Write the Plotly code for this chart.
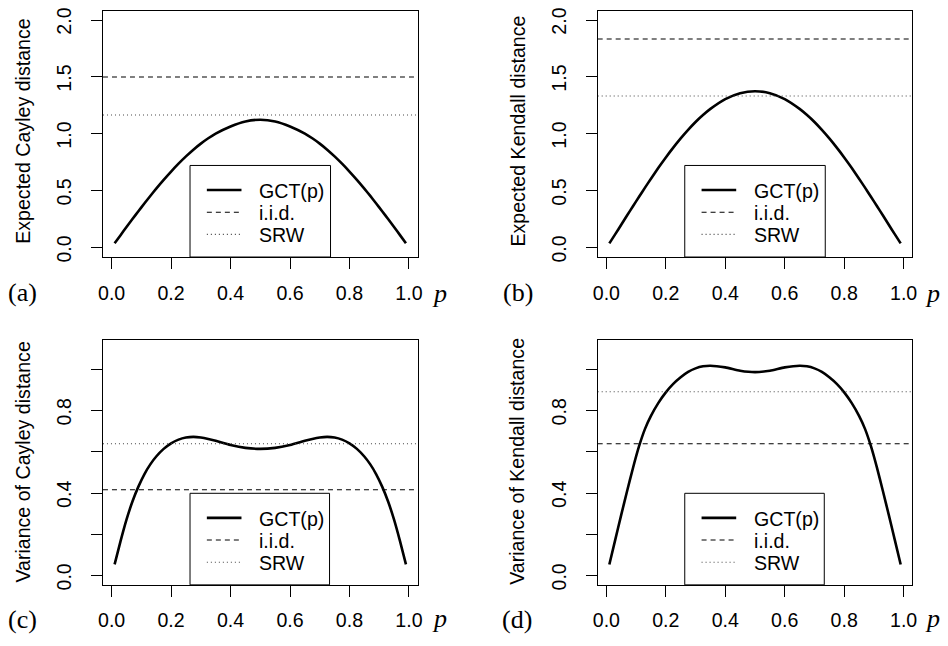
import plotly.graph_objects as go

# ---------------- data ----------------
P = [0.01, 0.03, 0.05, 0.07, 0.09, 0.11, 0.13, 0.15, 0.175, 0.2, 0.225, 0.25, 0.275,
     0.3, 0.325, 0.35, 0.4, 0.45, 0.5, 0.55, 0.6, 0.65, 0.675, 0.7, 0.725, 0.75,
     0.775, 0.8, 0.825, 0.85, 0.87, 0.89, 0.91, 0.93, 0.95, 0.97, 0.99]

EXP_CAYLEY = [0.04, 0.112, 0.183, 0.253, 0.322, 0.39, 0.456, 0.52, 0.597, 0.67, 0.739,
              0.803, 0.862, 0.915, 0.962, 1.003, 1.066, 1.11, 1.125, 1.11, 1.066, 1.003,
              0.962, 0.915, 0.862, 0.803, 0.739, 0.67, 0.597, 0.52, 0.456, 0.39, 0.322,
              0.253, 0.183, 0.112, 0.04]

EXP_KENDALL = [0.04, 0.121, 0.203, 0.286, 0.368, 0.449, 0.529, 0.607, 0.703, 0.794, 0.88,
               0.961, 1.036, 1.105, 1.166, 1.22, 1.306, 1.358, 1.375, 1.358, 1.306, 1.22,
               1.166, 1.105, 1.036, 0.961, 0.88, 0.794, 0.703, 0.607, 0.529, 0.449, 0.368,
               0.286, 0.203, 0.121, 0.04]

VAR_CAYLEY = [0.055, 0.168, 0.272, 0.36, 0.432, 0.492, 0.54, 0.578, 0.615, 0.642, 0.66,
              0.67, 0.673, 0.67, 0.663, 0.654, 0.634, 0.62, 0.615, 0.62, 0.634, 0.654,
              0.663, 0.67, 0.673, 0.67, 0.66, 0.642, 0.615, 0.578, 0.54, 0.492, 0.432,
              0.36, 0.272, 0.168, 0.055]

VAR_KENDALL = [0.055, 0.175, 0.295, 0.412, 0.525, 0.628, 0.712, 0.775, 0.838, 0.889, 0.93,
               0.962, 0.988, 1.005, 1.015, 1.018, 1.01, 0.994, 0.987, 0.994, 1.01, 1.018,
               1.015, 1.005, 0.988, 0.962, 0.93, 0.889, 0.838, 0.775, 0.712, 0.628, 0.525,
               0.412, 0.295, 0.175, 0.055]

IID_LEVEL = [1.5, 1.8333, 0.4167, 0.64]
SRW_LEVEL = [1.1667, 1.3333, 0.64, 0.892]

Y_TITLES = ["Expected Cayley distance", "Expected Kendall distance",
            "Variance of Cayley distance", "Variance of Kendall distance"]
PANEL_TAGS = ["(a)", "(b)", "(c)", "(d)"]
LEGEND_NAMES = ["GCT(p)", "i.i.d.", "SRW"]

X_TICKS = [0.0, 0.2, 0.4, 0.6, 0.8, 1.0]
X_TICK_TEXT = ["0.0", "0.2", "0.4", "0.6", "0.8", "1.0"]
Y_TICKS_TOP = [0.0, 0.5, 1.0, 1.5, 2.0]
Y_TICK_TEXT_TOP = ["0.0", "0.5", "1.0", "1.5", "2.0"]
Y_TICKS_BOT = [0.0, 0.2, 0.4, 0.6, 0.8, 1.0]
Y_TICK_TEXT_BOT = ["0.0", "", "0.4", "", "0.8", ""]
Y_LIM_TOP = [0.0, 2.0]
Y_LIM_BOT = [0.0, 1.1]

SERIES = [EXP_CAYLEY, EXP_KENDALL, VAR_CAYLEY, VAR_KENDALL]

# ---------------- layout helpers ----------------
W, H = 948, 646
SANS = "Liberation Sans, Arial, Helvetica, sans-serif"
SERIF = "Liberation Serif, Times New Roman, serif"
FS = 19.6


def fx(px):
    return px / W


def fy(py):
    return 1 - py / H


def r_range(lo, hi):
    pad = 0.04 * (hi - lo)
    return [lo - pad, hi + pad]


XLIM = r_range(min(P), max(P))
YLIMS = [r_range(*Y_LIM_TOP), r_range(*Y_LIM_TOP), r_range(*Y_LIM_BOT), r_range(*Y_LIM_BOT)]

# pixel geometry of each panel
BOXES = [(99, 417, 7, 257), (599, 917, 7, 257), (99, 417, 341, 590), (599, 917, 341, 590)]
LEGENDS = [(187, 329, 164, 257), (687, 829, 164, 257), (187, 328, 497, 590), (687, 828, 497, 590)]
YTITLE_X = [18, 518, 18, 517.5]
YTITLE_Y = [129, 129, 465, 465]
TAG_X = [18, 518, 18, 517]
P_X = [439, 937, 439, 937]
LABEL_ROW_Y = [293, 293, 625, 625]
PLABEL_ROW_Y = [294, 294, 624, 624]

fig = go.Figure()
layout = dict(
    width=W, height=H, margin=dict(l=0, r=0, t=0, b=0),
    paper_bgcolor="white", plot_bgcolor="white", showlegend=False,
    font=dict(family=SANS, size=FS, color="black"),
)
shapes = []
annotations = []

for i in range(4):
    sfx = "" if i == 0 else str(i + 1)
    xa, ya = "x" + sfx, "y" + sfx
    x0, x1, y0, y1 = BOXES[i]

    fig.add_trace(go.Scatter(x=P, y=SERIES[i], mode="lines", xaxis=xa, yaxis=ya,
                             line=dict(color="black", width=2.6, shape="spline", smoothing=0.6),
                             name=LEGEND_NAMES[0], hoverinfo="skip"))
    fig.add_trace(go.Scatter(x=XLIM, y=[IID_LEVEL[i]] * 2, mode="lines", xaxis=xa, yaxis=ya,
                             line=dict(color="black", width=1.1, dash="5px,4px"),
                             name=LEGEND_NAMES[1], hoverinfo="skip"))
    fig.add_trace(go.Scatter(x=XLIM, y=[SRW_LEVEL[i]] * 2, mode="lines", xaxis=xa, yaxis=ya,
                             line=dict(color="#444", width=1.1, dash="1px,3px"),
                             name=LEGEND_NAMES[2], hoverinfo="skip"))

    top = i < 2
    layout["xaxis" + sfx] = dict(
        domain=[fx(x0), fx(x1)], anchor=ya, range=XLIM, showgrid=False, zeroline=False,
        showline=True, linecolor="black", linewidth=1, mirror=True,
        ticks="outside", ticklen=11, tickwidth=1, tickcolor="black",
        tickmode="array", tickvals=X_TICKS, ticktext=X_TICK_TEXT,
        tickfont=dict(family=SANS, size=FS, color="black"), ticklabelstandoff=7,
    )
    layout["yaxis" + sfx] = dict(
        domain=[fy(y1), fy(y0)], anchor=xa, range=YLIMS[i], showgrid=False, zeroline=False,
        showline=True, linecolor="black", linewidth=1, mirror=True,
        ticks="outside", ticklen=11, tickwidth=1, tickcolor="black",
        tickmode="array",
        tickvals=Y_TICKS_TOP if top else Y_TICKS_BOT,
        ticktext=Y_TICK_TEXT_TOP if top else Y_TICK_TEXT_BOT,
        tickangle=-90, tickfont=dict(family=SANS, size=FS, color="black"),
        ticklabelstandoff=12, ticklabelshift=4,
    )

    # axis title
    annotations.append(dict(text=Y_TITLES[i], xref="paper", yref="paper",
                            x=fx(YTITLE_X[i]), y=fy(YTITLE_Y[i]), textangle=-90,
                            showarrow=False, xanchor="center", yanchor="middle",
                            font=dict(family=SANS, size=FS, color="black")))
    # panel tag and p label
    annotations.append(dict(text=PANEL_TAGS[i], xref="paper", yref="paper",
                            x=fx(TAG_X[i]), y=fy(LABEL_ROW_Y[i]), showarrow=False,
                            xanchor="center", yanchor="middle",
                            font=dict(family=SERIF, size=26, color="black")))
    annotations.append(dict(text="<i>p</i>", xref="paper", yref="paper",
                            x=fx(P_X[i]), y=fy(PLABEL_ROW_Y[i]), showarrow=False,
                            xanchor="center", yanchor="middle",
                            font=dict(family=SERIF, size=26, color="black")))

    # legend box
    lx0, lx1, ly0, ly1 = LEGENDS[i]
    shapes.append(dict(type="rect", xref="paper", yref="paper", layer="above",
                       x0=fx(lx0), x1=fx(lx1), y0=fy(ly1), y1=fy(ly0),
                       fillcolor="white", line=dict(color="black", width=1)))
    row_offsets = [25, 47.5, 70]
    styles = [dict(color="black", width=2.6),
              dict(color="black", width=1.1, dash="5px,4px"),
              dict(color="#444", width=1.1, dash="1px,3px")]
    for k in range(3):
        ry = ly0 + row_offsets[k]
        shapes.append(dict(type="line", xref="paper", yref="paper", layer="above",
                           x0=fx(lx0 + 17), x1=fx(lx0 + 52), y0=fy(ry), y1=fy(ry),
                           line=styles[k]))
        annotations.append(dict(text=LEGEND_NAMES[k], xref="paper", yref="paper",
                                x=fx(lx0 + 68), y=fy(ry + 1), showarrow=False,
                                xanchor="left", yanchor="middle",
                                font=dict(family=SANS, size=FS, color="black")))

layout["shapes"] = shapes
layout["annotations"] = annotations
fig.update_layout(**layout)
fig.write_html("out.html", config={"displayModeBar": False},
               post_script="document.body.style.margin='0';document.body.style.overflow='hidden';")
